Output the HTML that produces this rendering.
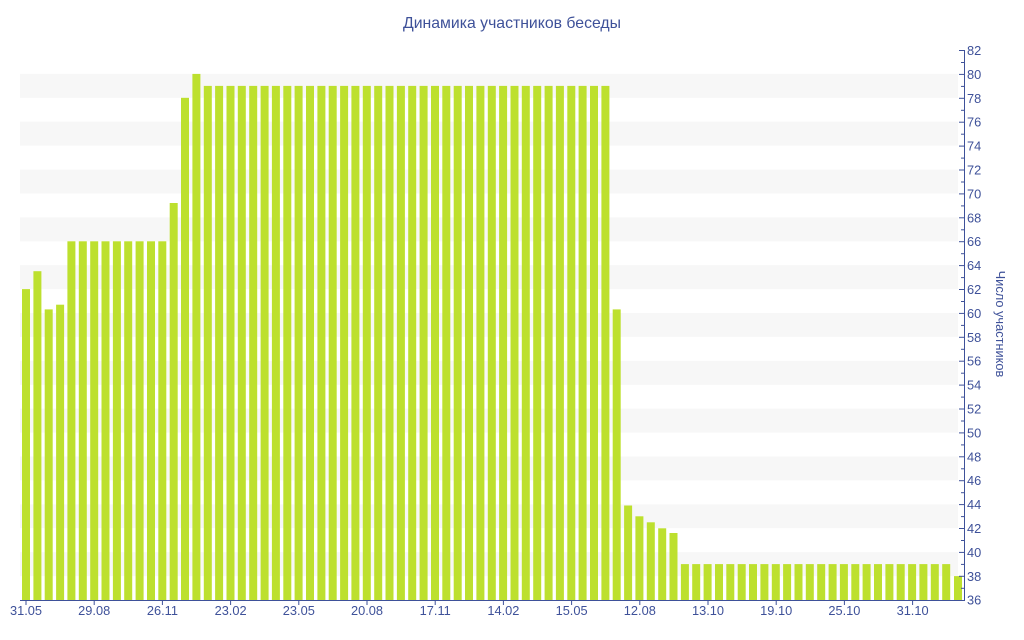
<!DOCTYPE html>
<html><head><meta charset="utf-8"><style>
html,body{margin:0;padding:0;background:#fff;}
svg{display:block;font-family:"Liberation Sans","DejaVu Sans",sans-serif;}
.t{fill:#3e5199;font-size:12.8px;}
</style></head><body>
<svg width="1024" height="640" xmlns="http://www.w3.org/2000/svg">
<text x="512" y="28" text-anchor="middle" fill="#3e5199" font-size="15.8">Динамика участников беседы</text>
<g fill="#f7f7f7">
<rect x="20" y="73.9" width="938" height="23.9"/>
<rect x="20" y="121.7" width="938" height="23.9"/>
<rect x="20" y="169.6" width="938" height="23.9"/>
<rect x="20" y="217.4" width="938" height="23.9"/>
<rect x="20" y="265.2" width="938" height="23.9"/>
<rect x="20" y="313.0" width="938" height="23.9"/>
<rect x="20" y="360.9" width="938" height="23.9"/>
<rect x="20" y="408.7" width="938" height="23.9"/>
<rect x="20" y="456.5" width="938" height="23.9"/>
<rect x="20" y="504.3" width="938" height="23.9"/>
<rect x="20" y="552.2" width="938" height="23.9"/>
</g>
<g fill="#bde02e">
<rect x="22.0" y="289.1" width="8" height="310.9"/>
<rect x="33.4" y="271.2" width="8" height="328.8"/>
<rect x="44.7" y="309.4" width="8" height="290.6"/>
<rect x="56.1" y="304.7" width="8" height="295.3"/>
<rect x="67.4" y="241.3" width="8" height="358.7"/>
<rect x="78.8" y="241.3" width="8" height="358.7"/>
<rect x="90.2" y="241.3" width="8" height="358.7"/>
<rect x="101.5" y="241.3" width="8" height="358.7"/>
<rect x="112.9" y="241.3" width="8" height="358.7"/>
<rect x="124.2" y="241.3" width="8" height="358.7"/>
<rect x="135.6" y="241.3" width="8" height="358.7"/>
<rect x="147.0" y="241.3" width="8" height="358.7"/>
<rect x="158.3" y="241.3" width="8" height="358.7"/>
<rect x="169.7" y="203.0" width="8" height="397"/>
<rect x="181.0" y="97.8" width="8" height="502.2"/>
<rect x="192.4" y="73.9" width="8" height="526.1"/>
<rect x="203.8" y="85.9" width="8" height="514.1"/>
<rect x="215.1" y="85.9" width="8" height="514.1"/>
<rect x="226.5" y="85.9" width="8" height="514.1"/>
<rect x="237.8" y="85.9" width="8" height="514.1"/>
<rect x="249.2" y="85.9" width="8" height="514.1"/>
<rect x="260.6" y="85.9" width="8" height="514.1"/>
<rect x="271.9" y="85.9" width="8" height="514.1"/>
<rect x="283.3" y="85.9" width="8" height="514.1"/>
<rect x="294.6" y="85.9" width="8" height="514.1"/>
<rect x="306.0" y="85.9" width="8" height="514.1"/>
<rect x="317.4" y="85.9" width="8" height="514.1"/>
<rect x="328.7" y="85.9" width="8" height="514.1"/>
<rect x="340.1" y="85.9" width="8" height="514.1"/>
<rect x="351.4" y="85.9" width="8" height="514.1"/>
<rect x="362.8" y="85.9" width="8" height="514.1"/>
<rect x="374.2" y="85.9" width="8" height="514.1"/>
<rect x="385.5" y="85.9" width="8" height="514.1"/>
<rect x="396.9" y="85.9" width="8" height="514.1"/>
<rect x="408.2" y="85.9" width="8" height="514.1"/>
<rect x="419.6" y="85.9" width="8" height="514.1"/>
<rect x="431.0" y="85.9" width="8" height="514.1"/>
<rect x="442.3" y="85.9" width="8" height="514.1"/>
<rect x="453.7" y="85.9" width="8" height="514.1"/>
<rect x="465.0" y="85.9" width="8" height="514.1"/>
<rect x="476.4" y="85.9" width="8" height="514.1"/>
<rect x="487.8" y="85.9" width="8" height="514.1"/>
<rect x="499.1" y="85.9" width="8" height="514.1"/>
<rect x="510.5" y="85.9" width="8" height="514.1"/>
<rect x="521.8" y="85.9" width="8" height="514.1"/>
<rect x="533.2" y="85.9" width="8" height="514.1"/>
<rect x="544.6" y="85.9" width="8" height="514.1"/>
<rect x="555.9" y="85.9" width="8" height="514.1"/>
<rect x="567.3" y="85.9" width="8" height="514.1"/>
<rect x="578.6" y="85.9" width="8" height="514.1"/>
<rect x="590.0" y="85.9" width="8" height="514.1"/>
<rect x="601.4" y="85.9" width="8" height="514.1"/>
<rect x="612.7" y="309.4" width="8" height="290.6"/>
<rect x="624.1" y="505.5" width="8" height="94.5"/>
<rect x="635.4" y="516.3" width="8" height="83.7"/>
<rect x="646.8" y="522.3" width="8" height="77.7"/>
<rect x="658.2" y="528.3" width="8" height="71.7"/>
<rect x="669.5" y="533.0" width="8" height="67"/>
<rect x="680.9" y="564.1" width="8" height="35.9"/>
<rect x="692.2" y="564.1" width="8" height="35.9"/>
<rect x="703.6" y="564.1" width="8" height="35.9"/>
<rect x="715.0" y="564.1" width="8" height="35.9"/>
<rect x="726.3" y="564.1" width="8" height="35.9"/>
<rect x="737.7" y="564.1" width="8" height="35.9"/>
<rect x="749.0" y="564.1" width="8" height="35.9"/>
<rect x="760.4" y="564.1" width="8" height="35.9"/>
<rect x="771.8" y="564.1" width="8" height="35.9"/>
<rect x="783.1" y="564.1" width="8" height="35.9"/>
<rect x="794.5" y="564.1" width="8" height="35.9"/>
<rect x="805.8" y="564.1" width="8" height="35.9"/>
<rect x="817.2" y="564.1" width="8" height="35.9"/>
<rect x="828.6" y="564.1" width="8" height="35.9"/>
<rect x="839.9" y="564.1" width="8" height="35.9"/>
<rect x="851.3" y="564.1" width="8" height="35.9"/>
<rect x="862.6" y="564.1" width="8" height="35.9"/>
<rect x="874.0" y="564.1" width="8" height="35.9"/>
<rect x="885.4" y="564.1" width="8" height="35.9"/>
<rect x="896.7" y="564.1" width="8" height="35.9"/>
<rect x="908.1" y="564.1" width="8" height="35.9"/>
<rect x="919.4" y="564.1" width="8" height="35.9"/>
<rect x="930.8" y="564.1" width="8" height="35.9"/>
<rect x="942.2" y="564.1" width="8" height="35.9"/>
<rect x="954.0" y="576.1" width="8" height="23.9"/>
</g>
<g stroke="#3e5199" stroke-width="1" fill="none">
<line x1="20" y1="600.5" x2="964" y2="600.5"/>
<line x1="964.5" y1="50" x2="964.5" y2="601"/>
</g>
<g stroke="#3e5199" stroke-width="1">
<line x1="26" y1="600" x2="26" y2="605"/>
<line x1="94.2" y1="600" x2="94.2" y2="605"/>
<line x1="162.4" y1="600" x2="162.4" y2="605"/>
<line x1="230.6" y1="600" x2="230.6" y2="605"/>
<line x1="298.8" y1="600" x2="298.8" y2="605"/>
<line x1="367" y1="600" x2="367" y2="605"/>
<line x1="435.2" y1="600" x2="435.2" y2="605"/>
<line x1="503.4" y1="600" x2="503.4" y2="605"/>
<line x1="571.6" y1="600" x2="571.6" y2="605"/>
<line x1="639.8" y1="600" x2="639.8" y2="605"/>
<line x1="708" y1="600" x2="708" y2="605"/>
<line x1="776.2" y1="600" x2="776.2" y2="605"/>
<line x1="844.4" y1="600" x2="844.4" y2="605"/>
<line x1="912.6" y1="600" x2="912.6" y2="605"/>
</g>
<g stroke="#3e5199" stroke-width="1">
<line x1="959" y1="50.5" x2="964" y2="50.5"/><line x1="961" y1="62.5" x2="964" y2="62.5"/>
<line x1="959" y1="74.4" x2="964" y2="74.4"/><line x1="961" y1="86.4" x2="964" y2="86.4"/>
<line x1="959" y1="98.3" x2="964" y2="98.3"/><line x1="961" y1="110.3" x2="964" y2="110.3"/>
<line x1="959" y1="122.2" x2="964" y2="122.2"/><line x1="961" y1="134.2" x2="964" y2="134.2"/>
<line x1="959" y1="146.1" x2="964" y2="146.1"/><line x1="961" y1="158.1" x2="964" y2="158.1"/>
<line x1="959" y1="170.0" x2="964" y2="170.0"/><line x1="961" y1="182.0" x2="964" y2="182.0"/>
<line x1="959" y1="193.9" x2="964" y2="193.9"/><line x1="961" y1="205.9" x2="964" y2="205.9"/>
<line x1="959" y1="217.8" x2="964" y2="217.8"/><line x1="961" y1="229.8" x2="964" y2="229.8"/>
<line x1="959" y1="241.7" x2="964" y2="241.7"/><line x1="961" y1="253.7" x2="964" y2="253.7"/>
<line x1="959" y1="265.6" x2="964" y2="265.6"/><line x1="961" y1="277.6" x2="964" y2="277.6"/>
<line x1="959" y1="289.5" x2="964" y2="289.5"/><line x1="961" y1="301.5" x2="964" y2="301.5"/>
<line x1="959" y1="313.4" x2="964" y2="313.4"/><line x1="961" y1="325.4" x2="964" y2="325.4"/>
<line x1="959" y1="337.3" x2="964" y2="337.3"/><line x1="961" y1="349.3" x2="964" y2="349.3"/>
<line x1="959" y1="361.2" x2="964" y2="361.2"/><line x1="961" y1="373.2" x2="964" y2="373.2"/>
<line x1="959" y1="385.1" x2="964" y2="385.1"/><line x1="961" y1="397.1" x2="964" y2="397.1"/>
<line x1="959" y1="409.0" x2="964" y2="409.0"/><line x1="961" y1="421.0" x2="964" y2="421.0"/>
<line x1="959" y1="432.9" x2="964" y2="432.9"/><line x1="961" y1="444.9" x2="964" y2="444.9"/>
<line x1="959" y1="456.8" x2="964" y2="456.8"/><line x1="961" y1="468.8" x2="964" y2="468.8"/>
<line x1="959" y1="480.7" x2="964" y2="480.7"/><line x1="961" y1="492.7" x2="964" y2="492.7"/>
<line x1="959" y1="504.6" x2="964" y2="504.6"/><line x1="961" y1="516.6" x2="964" y2="516.6"/>
<line x1="959" y1="528.5" x2="964" y2="528.5"/><line x1="961" y1="540.5" x2="964" y2="540.5"/>
<line x1="959" y1="552.4" x2="964" y2="552.4"/><line x1="961" y1="564.4" x2="964" y2="564.4"/>
<line x1="959" y1="576.3" x2="964" y2="576.3"/><line x1="961" y1="588.3" x2="964" y2="588.3"/>
</g>
<g class="t" text-anchor="middle">
<text x="26" y="615">31.05</text><text x="94.2" y="615">29.08</text><text x="162.4" y="615">26.11</text>
<text x="230.6" y="615">23.02</text><text x="298.8" y="615">23.05</text><text x="367" y="615">20.08</text>
<text x="435.2" y="615">17.11</text><text x="503.4" y="615">14.02</text><text x="571.6" y="615">15.05</text>
<text x="639.8" y="615">12.08</text><text x="708" y="615">13.10</text><text x="776.2" y="615">19.10</text>
<text x="844.4" y="615">25.10</text><text x="912.6" y="615">31.10</text>
</g>
<g class="t">
<text x="967" y="55">82</text><text x="967" y="78.9">80</text><text x="967" y="102.8">78</text>
<text x="967" y="126.7">76</text><text x="967" y="150.6">74</text><text x="967" y="174.5">72</text>
<text x="967" y="198.4">70</text><text x="967" y="222.3">68</text><text x="967" y="246.2">66</text>
<text x="967" y="270.1">64</text><text x="967" y="294.0">62</text><text x="967" y="317.9">60</text>
<text x="967" y="341.8">58</text><text x="967" y="365.7">56</text><text x="967" y="389.6">54</text>
<text x="967" y="413.5">52</text><text x="967" y="437.4">50</text><text x="967" y="461.3">48</text>
<text x="967" y="485.2">46</text><text x="967" y="509.1">44</text><text x="967" y="533.0">42</text>
<text x="967" y="556.9">40</text><text x="967" y="580.8">38</text><text x="967" y="604.7">36</text>
</g>
<text class="t" x="0" y="0" text-anchor="middle" font-size="14" transform="translate(996,324) rotate(90)">Число участников</text>
</svg>
</body></html>
